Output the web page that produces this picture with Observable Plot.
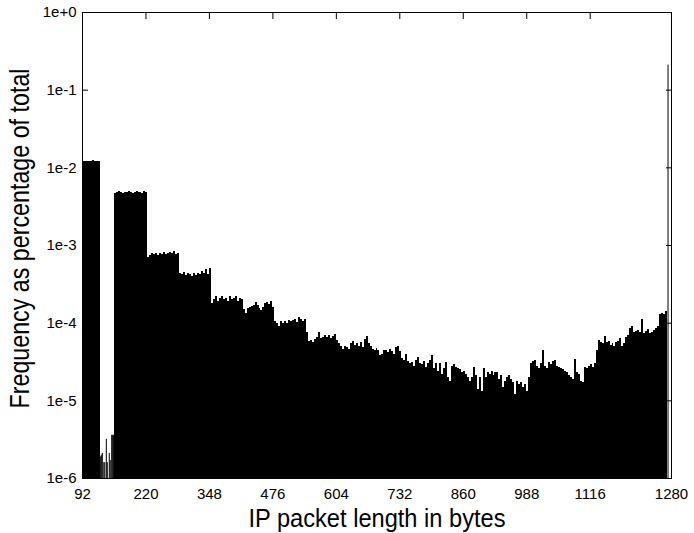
<!DOCTYPE html>
<html><head><meta charset="utf-8">
<script src="https://cdn.jsdelivr.net/npm/d3@7"></script>
<script src="https://cdn.jsdelivr.net/npm/@observablehq/plot@0.6"></script>
<style>body{margin:0;background:#fff} svg{display:block}</style>
</head><body><div id="chart"></div>
<script>
// Histogram of IP packet lengths (4-byte bins), frequency as fraction of total
const binWidth = 4;
const xTicks = [92, 220, 348, 476, 604, 732, 860, 988, 1116, 1280];
const yTicks = [1e-6, 1e-5, 1e-4, 1e-3, 1e-2, 1e-1, 1];
const xTitle = "IP packet length in bytes";
const yTitle = "Frequency as percentage of total";

// bytes 92..128
const seg92 = [0.0121, 0.0122, 0.0122, 0.0121, 0.0122, 0.0123, 0.0122, 0.0121, 0.0122];
// sparse single lengths in the gap 128..156
const gapLengths = [128, 130, 132, 135, 137, 140, 142, 146, 148, 151, 152, 154, 155];
const gapFreq = [1.9e-6, 2.0e-6, 2.1e-6, 1.6e-6, 1.6e-6, 3.2e-6, 1.6e-6, 2.1e-6, 1.7e-6, 3.6e-6, 3.6e-6, 3.6e-6, 3.5e-6];
// bytes 156..416
const seg156 = [
  4.7e-3, 4.8e-3, 4.9e-3, 4.8e-3, 4.7e-3, 4.8e-3, 4.8e-3, 4.9e-3, 4.8e-3, 4.7e-3, 4.8e-3, 4.9e-3, 4.8e-3, 4.8e-3, 4.7e-3, 4.9e-3, 4.8e-3,
  7.0e-4, 7.4e-4, 7.8e-4, 7.6e-4, 8.0e-4, 7.5e-4, 7.9e-4, 7.7e-4, 8.1e-4, 7.6e-4, 7.9e-4, 8.2e-4, 7.8e-4, 8.3e-4, 7.7e-4, 8.0e-4,
  4.4e-4, 4.2e-4, 4.5e-4, 4.1e-4, 4.3e-4, 4.2e-4, 4.0e-4, 4.3e-4, 4.1e-4, 4.4e-4, 4.2e-4, 4.6e-4, 4.3e-4, 4.9e-4, 4.2e-4, 5.0e-4,
  1.8e-4, 2.0e-4, 2.2e-4, 1.9e-4, 2.1e-4, 2.2e-4, 2.0e-4, 2.1e-4, 1.9e-4, 2.2e-4, 2.0e-4, 2.1e-4, 2.2e-4, 1.9e-4, 2.1e-4, 2.0e-4
];
// bytes 416..800
const seg416 = [
  1.5e-4, 1.35e-4, 1.55e-4, 1.6e-4, 1.65e-4, 1.7e-4, 1.85e-4, 1.7e-4, 1.55e-4, 1.45e-4, 1.6e-4, 1.8e-4, 1.85e-4, 1.75e-4, 1.9e-4, 1.6e-4,
  1.05e-4, 1.0e-4, 9.0e-5, 1.05e-4, 1.0e-4, 1.05e-4, 1.0e-4, 1.07e-4, 1.05e-4, 1.08e-4, 1.1e-4, 1.02e-4, 1.2e-4, 1.1e-4, 1.05e-4, 1.1e-4,
  7.5e-5, 5.8e-5, 6.0e-5, 5.7e-5, 6.2e-5, 6.5e-5, 7.5e-5, 6.3e-5, 6.6e-5, 7.0e-5, 6.5e-5, 7.0e-5, 6.4e-5, 6.8e-5, 7.2e-5, 6.0e-5,
  5.5e-5, 5.0e-5, 4.6e-5, 5.0e-5, 4.8e-5, 4.6e-5, 5.5e-5, 5.8e-5, 5.2e-5, 5.4e-5, 5.0e-5, 5.6e-5, 4.8e-5, 6.2e-5, 6.8e-5, 5.5e-5,
  5.0e-5, 4.6e-5, 4.4e-5, 4.7e-5, 4.5e-5, 3.8e-5, 4.0e-5, 4.5e-5, 4.4e-5, 4.2e-5, 4.6e-5, 4.3e-5, 4.0e-5, 4.8e-5, 5.0e-5, 4.3e-5,
  3.5e-5, 3.3e-5, 3.9e-5, 3.2e-5, 3.0e-5, 3.1e-5, 2.8e-5, 3.3e-5, 3.6e-5, 3.0e-5, 2.9e-5, 3.2e-5, 2.7e-5, 3.0e-5, 3.3e-5, 3.8e-5
];
// bytes 800..1272
const seg800 = [
  2.6e-5, 3.0e-5, 2.4e-5, 3.0e-5, 2.2e-5, 2.6e-5, 3.1e-5, 2.0e-5, 1.8e-5, 2.8e-5, 2.9e-5, 2.7e-5, 2.6e-5, 2.5e-5, 2.3e-5, 2.4e-5,
  2.2e-5, 2.0e-5, 1.8e-5, 2.0e-5, 2.7e-5, 2.1e-5, 1.4e-5, 2.0e-5, 1.3e-5, 2.6e-5, 2.0e-5, 2.3e-5, 2.2e-5, 2.4e-5, 2.1e-5, 2.3e-5,
  2.3e-5, 1.9e-5, 2.1e-5, 1.5e-5, 1.8e-5, 2.0e-5, 2.1e-5, 1.9e-5, 1.7e-5, 1.2e-5, 1.8e-5, 1.6e-5, 1.7e-5, 1.5e-5, 1.6e-5, 1.3e-5,
  2.0e-5, 3.0e-5, 3.2e-5, 3.3e-5, 2.8e-5, 2.6e-5, 3.0e-5, 4.4e-5, 2.8e-5, 2.6e-5, 3.1e-5, 2.9e-5, 3.2e-5, 3.3e-5, 2.8e-5, 2.7e-5,
  2.6e-5, 2.5e-5, 2.4e-5, 2.3e-5, 2.1e-5, 2.0e-5, 1.9e-5, 3.4e-5, 2.3e-5, 2.2e-5, 1.8e-5, 1.7e-5, 2.7e-5, 2.6e-5, 2.8e-5, 2.9e-5,
  2.7e-5, 3.0e-5, 4.5e-5, 6.0e-5, 5.6e-5, 5.5e-5, 6.8e-5, 5.6e-5, 5.8e-5, 5.2e-5, 5.4e-5, 5.0e-5, 5.6e-5, 5.8e-5, 6.3e-5, 5.0e-5,
  5.5e-5, 6.5e-5, 7.0e-5, 8.5e-5, 9.0e-5, 7.5e-5, 7.8e-5, 8.1e-5, 7.6e-5, 1.1e-4, 7.3e-5, 7.9e-5, 8.2e-5, 7.3e-5, 7.5e-5, 8.0e-5,
  8.5e-5, 9.0e-5, 1.3e-4, 1.35e-4, 1.3e-4, 1.4e-4
];
// single tall length near the MTU
const peakLength = 1273;
const peakFreq = 0.21;

const bins = [];
function addSeg(start, values) {
  values.forEach((v, k) => bins.push({x1: start + k * binWidth, x2: start + (k + 1) * binWidth, f: v}));
}
addSeg(92, seg92);
addSeg(156, seg156);
addSeg(416, seg416);
addSeg(800, seg800);
const gap = gapLengths.map((len, i) => ({len, f: gapFreq[i]}));

const fmtExp = d => { const e = Math.round(Math.log10(d)); return "1e" + (e >= 0 ? "+" : "") + e; };
const font = "'Liberation Sans', Arial, sans-serif";

const chart = Plot.plot({
  width: 694, height: 533,
  marginLeft: 82, marginRight: 23, marginTop: 12, marginBottom: 55,
  style: {fontFamily: font, fontSize: "15px", color: "black", background: "white"},
  x: {domain: [92, 1280]},
  y: {type: "log", domain: [1e-6, 1]},
  marks: [
    Plot.rectY(bins, {x1: "x1", x2: "x2", y1: 1e-6, y2: "f", fill: "black", shapeRendering: "crispEdges"}),
    Plot.ruleX(gap, {x: "len", y1: 1e-6, y2: "f", stroke: "black", strokeWidth: 1}),
    Plot.ruleX([{len: peakLength, f: peakFreq}], {x: "len", y1: 1e-6, y2: "f", stroke: "black", strokeWidth: 1}),
    Plot.frame({stroke: "black"}),
    Plot.axisX({anchor: "bottom", ticks: xTicks, tickSize: -6, tickPadding: 16, tickFormat: d => String(d), label: null, fontSize: 15}),
    Plot.axisX({anchor: "top", ticks: xTicks, tickSize: -6, tickFormat: () => "", label: null}),
    Plot.axisY({anchor: "left", ticks: yTicks, tickSize: -6, tickPadding: 12, tickFormat: fmtExp, label: null, fontSize: 15}),
    Plot.axisY({anchor: "right", ticks: yTicks, tickSize: -6, tickFormat: () => "", label: null}),
    Plot.text([xTitle], {frameAnchor: "bottom", dy: 40, text: d => d, fontSize: 26, lineAnchor: "middle", textAnchor: "middle"}),
    Plot.text([yTitle], {frameAnchor: "left", dx: -62, dy: -7, rotate: -90, text: d => d, fontSize: 28, lineAnchor: "middle", textAnchor: "middle"})
  ]
});
// titles are rendered condensed in the reference
chart.querySelectorAll("text").forEach(t => {
  if (t.textContent === xTitle) { t.setAttribute("textLength", 257); t.setAttribute("lengthAdjust", "spacingAndGlyphs"); }
  if (t.textContent === yTitle) { t.setAttribute("textLength", 340); t.setAttribute("lengthAdjust", "spacingAndGlyphs"); }
});
document.getElementById("chart").append(chart);
</script>
</body></html>
